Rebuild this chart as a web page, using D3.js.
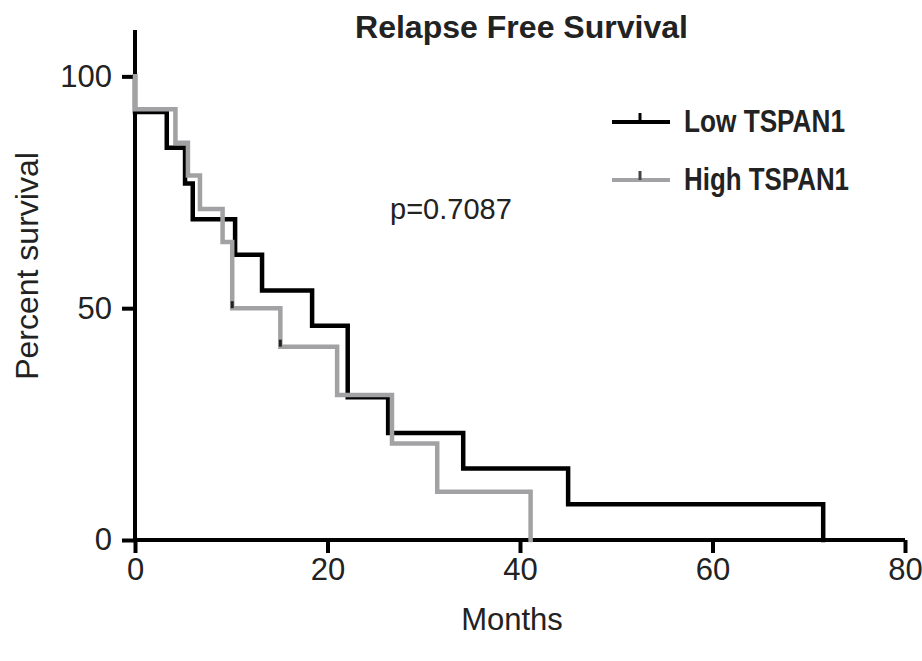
<!DOCTYPE html>
<html><head><meta charset="utf-8">
<script src="https://cdn.jsdelivr.net/npm/d3@7"></script>
<style>body{margin:0;background:#fff}svg{display:block}</style>
</head><body><svg id="c" width="922" height="661"></svg>
<script>
const title = "Relapse Free Survival";
const xTicks = [0, 20, 40, 60, 80];
const yTicks = [0, 50, 100];
const seriesNames = ["Low TSPAN1", "High TSPAN1"];
const lowTimes = [0, 0, 3.3, 5.2, 6.0, 10.4, 13.2, 18.4, 22.1, 26.3, 34.1, 45.0, 71.5];
const lowSurv  = [100, 92.3, 84.6, 76.9, 69.2, 61.5, 53.8, 46.2, 30.8, 23.1, 15.4, 7.7, 0];
const highTimes = [0, 0, 4.2, 5.5, 6.75, 9.1, 10.1, 15.1, 21.0, 26.7, 31.4, 41.1];
const highSurv  = [100, 92.9, 85.7, 78.6, 71.4, 64.3, 50.0, 41.7, 31.3, 20.8, 10.4, 0];
const highCensorT = [10.1, 15.1];
const highCensorS = [50.0, 41.7];
const pText = "p=0.7087";

const svg = d3.select("#c");
const x = d3.scaleLinear().domain([0, 80]).range([135, 905]);
const y = d3.scaleLinear().domain([0, 110]).range([540, 30]);
const font = "Liberation Sans, Arial, sans-serif";

// axes
const xa = svg.append("g").attr("transform", "translate(0,540)")
  .call(d3.axisBottom(x).tickValues(xTicks).tickSize(13).tickSizeOuter(0).tickPadding(5));
const ya = svg.append("g").attr("transform", "translate(135,0)")
  .call(d3.axisLeft(y).tickValues(yTicks).tickSize(13).tickSizeOuter(0).tickPadding(10));
[xa, ya].forEach(a => {
  a.select(".domain").attr("stroke", "#000").attr("stroke-width", 4);
  a.selectAll(".tick line").attr("stroke", "#000").attr("stroke-width", 4);
  a.selectAll(".tick text").attr("font-family", font).attr("font-size", 31).attr("fill", "#222");
});
ya.select(".domain").attr("d", "M0," + y(0) + "V" + y(110));
xa.select(".domain").attr("d", "M" + x(0) + ",0H" + x(80));

const line = d3.line().x(d => x(d[0])).y(d => y(d[1])).curve(d3.curveStepAfter);
const lowPts = lowTimes.map((t, i) => [t, lowSurv[i]]);
const highPts = highTimes.map((t, i) => [t, highSurv[i]]);

svg.append("path").attr("d", line(lowPts)).attr("fill", "none")
  .attr("stroke", "#000").attr("stroke-width", 4.5).attr("stroke-linejoin", "miter").attr("stroke-linecap", "square");
svg.append("path").attr("d", line(highPts)).attr("fill", "none")
  .attr("stroke", "#a2a2a4").attr("stroke-width", 4.5).attr("stroke-linejoin", "miter").attr("stroke-linecap", "square");

svg.selectAll(".cens").data(highCensorT.map((t, i) => [t, highCensorS[i]])).enter()
  .append("line").attr("x1", d => x(d[0])).attr("x2", d => x(d[0]))
  .attr("y1", d => y(d[1])).attr("y2", d => y(d[1]) - 7)
  .attr("stroke", "#222").attr("stroke-width", 3);

// title
svg.append("text").attr("x", 355).attr("y", 38).attr("textLength", 333).attr("lengthAdjust", "spacingAndGlyphs")
  .attr("font-family", font).attr("font-weight", "bold").attr("font-size", 32).attr("fill", "#222").text(title);

// labels
svg.append("text").attr("x", 512).attr("y", 630).attr("text-anchor", "middle")
  .attr("font-family", font).attr("font-size", 31).attr("fill", "#222").text("Months");
svg.append("text").attr("transform", "translate(38,266) rotate(-90)").attr("text-anchor", "middle")
  .attr("font-family", font).attr("font-size", 32).attr("fill", "#222").text("Percent survival");
svg.append("text").attr("x", 390).attr("y", 219)
  .attr("font-family", font).attr("font-size", 29).attr("fill", "#222").text(pText);

// legend
const legColors = ["#000", "#a2a2a4"];
const legTick = ["#000", "#444"];
const legLen = [161, 165];
seriesNames.forEach((n, i) => {
  const ly = 122 + i * 58;
  svg.append("line").attr("x1", 612).attr("x2", 670).attr("y1", ly).attr("y2", ly)
    .attr("stroke", legColors[i]).attr("stroke-width", 4);
  svg.append("line").attr("x1", 640).attr("x2", 640).attr("y1", ly).attr("y2", ly - 9)
    .attr("stroke", legTick[i]).attr("stroke-width", 3);
  svg.append("text").attr("x", 684).attr("y", ly + 10).attr("textLength", legLen[i]).attr("lengthAdjust", "spacingAndGlyphs")
    .attr("font-family", font).attr("font-weight", "bold").attr("font-size", 31).attr("fill", "#222").text(n);
});
</script></body></html>
